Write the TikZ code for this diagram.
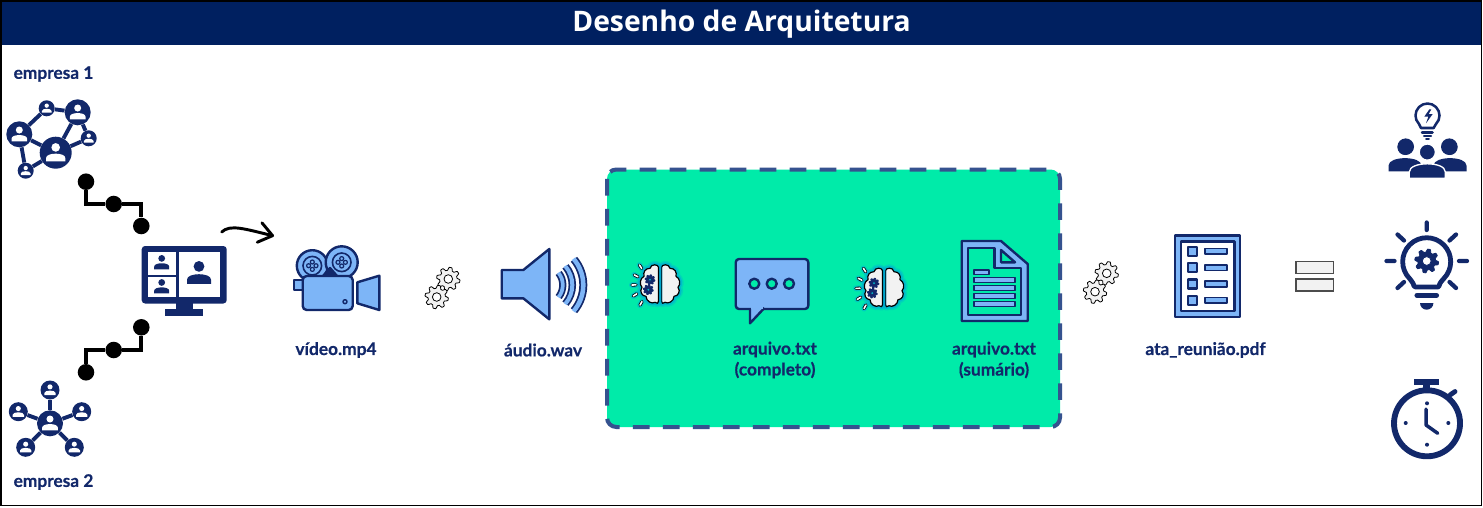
\documentclass[tikz,border=0pt]{standalone}
\usepackage{fontspec}
\setmainfont{Lato}[BoldFeatures={FakeBold=.4}]
\newfontfamily\titlefont{Open Sans}
\usetikzlibrary{arrows.meta}

\definecolor{navy}{HTML}{12286A}
\definecolor{barra}{HTML}{002060}
\definecolor{azul}{HTML}{7DB5F7}
\definecolor{verde}{HTML}{00EBA9}
\definecolor{traco}{HTML}{35528F}
\definecolor{cinza}{HTML}{F2F2F2}
\definecolor{brilho}{HTML}{00A8D8}

\tikzset{
  rotulo/.style={text=navy,font=\bfseries\fontsize{13pt}{15.7pt}\selectfont,align=center,inner sep=0pt},
  membro/.style={circle,fill=navy,inner sep=0pt,minimum size=1.5pt*#1},
  elo/.style={circle,fill=black,inner sep=0pt,minimum size=12.4pt},
  fio/.style={draw=black,line width=3.2pt},
  ligacao/.style={draw=navy,line width=2.9pt},
  icone/.style={draw=navy,fill=azul,line width=1.8pt,line join=round},
  traco icone/.style={draw=navy,line width=#1,line cap=round,line join=round},
  pics/pessoa/.style={code={
    \path[#1] (0,-.55) circle (.45);
    \path[#1] (-1,.9) -- (-1,.55) .. controls (-1,.25) and (-.5,.1) .. (0,.1)
      .. controls (.5,.1) and (1,.25) .. (1,.55) -- (1,.9) -- cycle;
  }},
  pics/engrenagem/.style n args={3}{code={
    \draw[fill=#1,draw=#2,line width=.6pt,line join=round] plot[domain=0:357.5,samples=144]
      (\x:{10.2+1.5*max(-1,min(1,1.6*sin(8*\x)))}) -- cycle;
    \draw[fill=#3,draw=#2,line width=.6pt] (0,0) circle (4.3);
  }},
  lobo/.pic={
    \foreach \largura/\op in {6pt/.3,3.6pt/.6} {
      \draw[brilho,opacity=\op,line width=\largura,line join=round]
        (1.5,-17) .. controls (1.5,-20) and (9,-21) .. (10,-16) .. controls (15,-16) and (17,-12) .. (16,-8)
        .. controls (20,-6) and (21,0) .. (18,3) .. controls (21,7) and (18,12) .. (14,12)
        .. controls (14,17) and (8,20) .. (5,18) .. controls (3,20) and (1.5,19) .. (1.5,17) -- cycle;
    }
    \draw[fill=cinza,draw=black,line width=.9pt,line join=round]
      (1.5,-17) .. controls (1.5,-20) and (9,-21) .. (10,-16) .. controls (15,-16) and (17,-12) .. (16,-8)
      .. controls (20,-6) and (21,0) .. (18,3) .. controls (21,7) and (18,12) .. (14,12)
      .. controls (14,17) and (8,20) .. (5,18) .. controls (3,20) and (1.5,19) .. (1.5,17) -- cycle;
  },
  pics/cerebro/.style={code={
    \pic {lobo};
    \pic[xscale=-1] {lobo};
    \foreach \a/\r in {237/21,208/18,178/18,148/20,120/22} {
      \draw[brilho,opacity=.5,line width=4.4pt,line cap=round] (-8,0) ++(\a:\r-2) -- ++(\a:4);
      \draw[black,line width=2.4pt,line cap=round] (-8,0) ++(\a:\r-2) -- ++(\a:4);
      \draw[white,line width=1.2pt,line cap=round] (-8,0) ++(\a:\r-2) -- ++(\a:4);
    }
    \pic[scale=.42] at (-10,-4.6) {engrenagem={navy}{navy}{brilho!70!verde}};
    \pic[scale=.42] at (-11.7,5.4) {engrenagem={navy}{navy}{brilho!70!verde}};
  }},
}

\begin{document}
\begin{tikzpicture}[x=.75pt,y=-.75pt]
  \useasboundingbox (0,0) rectangle (1483,507);
  \fill[white] (0,0) rectangle (1483,507);

  % titulo
  \fill[barra] (1,1) rectangle (1481,45);
  \draw[black,line width=1.1pt] (1,1) rectangle (1481.5,505.5);
  \node[text=white,inner sep=0pt] (titulo) at (741.5,24.5) {\titlefont\bfseries\fontsize{21.2pt}{24pt}\selectfont Desenho de Arquitetura};

  \node[rotulo] (empresa1) at (53.5,74) {empresa 1};
  \node[rotulo] (empresa2) at (53.5,482) {empresa 2};

  % rede 1
  \node[membro=13] (m1) at (19.3,134.3) {};
  \node[membro=8] (m2) at (46.7,108.3) {};
  \node[membro=13] (m3) at (77.7,112.3) {};
  \node[membro=8] (m4) at (88.7,138.3) {};
  \node[membro=16] (m5) at (55.7,152.7) {};
  \node[membro=8] (m6) at (25.7,170.7) {};
  \draw[ligacao] (m1) -- (m2) -- (m3) -- (m5) -- (m4) -- (m3);
  \draw[ligacao] (m5) -- (m1) -- (m6) -- (m5);
  \foreach \n/\s in {m1/7.8,m2/4.8,m3/7.8,m4/4.8,m5/9.6,m6/4.8}
    \pic[scale=\s] at (\n) {pessoa={fill=white}};

  % rede 2
  \node[membro=13] (r0) at (50,423.3) {};
  \node[membro=9.5] (r1) at (50,390) {};
  \node[membro=9.5] (r2) at (81.7,411.7) {};
  \node[membro=9.5] (r3) at (18.3,411.7) {};
  \node[membro=9.5] (r4) at (25.7,447.3) {};
  \node[membro=9.5] (r5) at (74.3,447.3) {};
  \foreach \n in {r1,r2,r3,r4,r5}
    \draw[ligacao] (r0) -- (\n);
  \foreach \n/\s in {r0/7.8,r1/5.7,r2/5.7,r3/5.7,r4/5.7,r5/5.7}
    \pic[scale=\s] at (\n) {pessoa={fill=white}};

  % conectores
  \node[elo] (a1) at (86,181.7) {};
  \node[elo] (a2) at (113.7,204) {};
  \node[elo] (a3) at (141.3,226) {};
  \draw[fio] (a1) |- (a2) -| (a3);
  \node[elo] (b1) at (141.3,327.3) {};
  \node[elo] (b2) at (113.7,350) {};
  \node[elo] (b3) at (86,372.3) {};
  \draw[fio] (b1) |- (b2) -| (b3);

  % monitor
  \fill[navy,rounded corners=2.5pt] (141.7,246) rectangle (226.7,303.5);
  \fill[navy] (175.7,303) rectangle (192.7,310);
  \fill[navy] (165,309.3) rectangle (203.3,315.7);
  \fill[white] (147.7,252.3) rectangle (176,275);
  \fill[white] (147.7,276.7) rectangle (176,297.3);
  \fill[white] (179,252.3) rectangle (220,297.3);
  \pic[scale=7.5] at (161.7,262.5) {pessoa={fill=navy}};
  \pic[scale=7.5] at (161.7,286.6) {pessoa={fill=navy}};
  \pic[scale=12] at (199,273) {pessoa={fill=navy}};

  \coordinate (s1) at (221.7,232);
  \coordinate (s2) at (274,236);
  \draw[black,line width=2.2pt,line cap=round,-{Straight Barb[length=10pt,width=15pt,line width=2.2pt,round]}] (s1) .. controls (230,224) and (245,229) .. (s2);

  % camera
  \draw[icone] (294,280) rectangle (303,290);
  \draw[icone] (312.3,265.7) circle (15.5);
  \draw[icone] (341.7,262.3) circle (16);
  \draw[icone,fill=navy] (323,276) -- (330,268) -- (337,276) -- cycle;
  \draw[icone,rounded corners=3pt] (302.7,276) rectangle (352.7,310);
  \draw[icone] (357.3,282.3) -- (379.3,275.7) -- (379.3,310) -- (357.3,303.3) -- cycle;
  \draw[icone,line width=1.1pt] (345,301.7) circle (2);
  \foreach \cx/\cy in {312.3/265.7,341.7/262.3} {
    \draw[icone,line width=1.2pt] (\cx,\cy) circle (9.3);
    \foreach \dx/\dy in {-3.7/0,3.7/0,0/-3.7,0/3.7}
      \draw[icone,line width=.9pt] (\cx+\dx,\cy+\dy) circle (2);
  }

  \pic at (448.3,279) {engrenagem={cinza}{black}{white}};
  \pic at (436.7,297) {engrenagem={cinza}{black}{white}};

  % alto-falante
  \draw[icone] (501.7,270) -- (523.3,270) -- (549.3,249) -- (549.3,319.3) -- (523.3,298.3) -- (501.7,298.3) -- cycle;
  \foreach \r/\g/\lo/\la in {19.5/38/5.4pt/2.8pt,29/40/5.6pt/3pt,40/40/6pt/3.4pt} {
    \draw[navy,line width=\lo] (543.3,285) ++(-\g:\r) arc (-\g:\g:\r);
    \draw[azul,line width=\la] (543.3,285) ++(-\g-1:\r) arc (-\g-1:\g+1:\r);
  }

  % area verde
  \draw[fill=verde,draw=traco,line width=3pt,rounded corners=7pt,dash pattern=on 12.5pt off 10pt] (607,169.5) rectangle (1060,427);

  \pic at (660,284.3) {cerebro};
  \pic at (884,287.7) {cerebro};

  % balao
  \draw[icone,rounded corners=2.5pt] (735.7,259) rectangle (808.3,309);
  \draw[icone,fill=azul] (750,308) -- (750,323.3) -- (764.3,308);
  \fill[azul] (751,306) rectangle (763,308.5);
  \foreach \cx in {754.3,771.7,789}
    \draw[icone,fill=verde] (\cx,283.7) circle (5);

  % documento
  \draw[icone] (961.7,241) -- (1001,241) -- (1027.7,264) -- (1027.7,321) -- (961.7,321) -- cycle;
  \draw[icone,fill=verde] (967.7,247.7) -- (994.3,247.7) -- (994.3,267.7) -- (1021,267.7) -- (1021,315) -- (967.7,315) -- cycle;
  \draw[icone,fill=verde] (1001,250) -- (1015,262.3) -- (1001,262.3) -- cycle;
  \draw[icone,line width=1.2pt] (974,269.7) rectangle (989,274.3);
  \foreach \ly in {277.3,285.3,293.3,301.3}
    \draw[icone,line width=1.2pt] (974,\ly) rectangle (1015,\ly+5);

  \pic at (1106.7,273.3) {engrenagem={cinza}{black}{white}};
  \pic at (1095,291.7) {engrenagem={cinza}{black}{white}};

  % ata
  \draw[icone] (1174.8,235.5) rectangle (1240.2,317);
  \draw[icone,fill=white] (1181,241.5) rectangle (1234.3,311);
  \foreach \ly in {251.3,267.7,284,300.3} {
    \draw[icone] (1188.2,\ly-4.5) rectangle (1197,\ly+4.5);
    \draw[icone,line width=1.2pt] (1205,\ly-2.8) rectangle (1227,\ly+2.8);
  }

  \node[draw=black!70,fill=cinza,line width=1pt,inner sep=0pt,minimum width=28pt,minimum height=9pt] (igual1) at (1314.5,267.8) {};
  \node[draw=black!70,fill=cinza,line width=1pt,inner sep=0pt,minimum width=28pt,minimum height=9pt] (igual2) at (1314.5,285) {};

  % pessoas e lampada
  \draw[traco icone=1.9pt] (1421,128) -- (1419,124) arc (135:405:12) -- (1433.6,128) -- cycle;
  \fill[navy] (1429.3,109.3) -- (1424.3,116.7) -- (1428.3,116.7) -- (1426,123.3) -- (1432.7,114) -- (1428.7,114) -- (1431.3,109.3) -- cycle;
  \draw[traco icone=1.9pt] (1422,132.3) -- (1432.5,132.3);
  \draw[traco icone=1.6pt] (1424,136) -- (1431,136);
  \draw[traco icone=1.4pt] (1426,139) -- (1429,139);
  \pic[scale=16.5] at (1405,156.5) {pessoa={fill=navy}};
  \pic[scale=16.5] at (1450,156.5) {pessoa={fill=navy}};
  \fill[navy] (1405.7,146.7) circle (8.3) (1449.3,146.7) circle (8.3);
  \pic[scale=18] at (1427.3,162) {pessoa={fill=navy,draw=white,line width=1pt}};

  % lampada com engrenagem
  \draw[traco icone=3.6pt] (1415.5,287) -- (1414,286) .. controls (1413,282) and (1411,281) .. (1409.7,278.7) arc (135:405:24) .. controls (1442,281) and (1440,282) .. (1439,286) -- (1438,287) -- cycle;
  \draw[traco icone=3.8pt] (1417,295.3) -- (1436.5,295.3);
  \fill[navy] (1420,303) -- (1433.4,303) arc (0:180:6.7) -- cycle;
  \pic[scale=1.02] at (1426.7,261) {engrenagem={navy}{navy}{white}};
  \draw[traco icone=3.2pt] (1426.7,222.5) -- (1426.7,230)
    (1397.5,234.5) -- (1404,240.5) (1456,234.5) -- (1449.5,240.5)
    (1386.5,261) -- (1394.5,261) (1459,261) -- (1467,261)
    (1397.5,288) -- (1404,282) (1456,288) -- (1449.5,282);

  % cronometro
  \draw[traco icone=4.4pt] (1427,423.3) circle (33);
  \fill[navy] (1414.3,379) rectangle (1439.3,385);
  \fill[navy] (1423.3,385) rectangle (1430,392);
  \draw[traco icone=3.6pt] (1450,395) -- (1455,391.5);
  \foreach \tx/\ty in {1427/403.3,1405.7/423,1448.3/423,1427/444.7}
    \fill[navy] (\tx,\ty) circle (2);
  \draw[traco icone=2.6pt] (1426,409) -- (1426,425) -- (1437.7,433.3);

  \node[rotulo] (video) at (336,350) {vídeo.mp4};
  \node[rotulo] (audio) at (543,350) {áudio.wav};
  \node[rotulo] (completo) at (775,360) {arquivo.txt\\(completo)};
  \node[rotulo] (sumario) at (994,360) {arquivo.txt\\(sumário)};
  \node[rotulo] (ata) at (1205.5,350) {ata\_reunião.pdf};
\end{tikzpicture}
\end{document}
